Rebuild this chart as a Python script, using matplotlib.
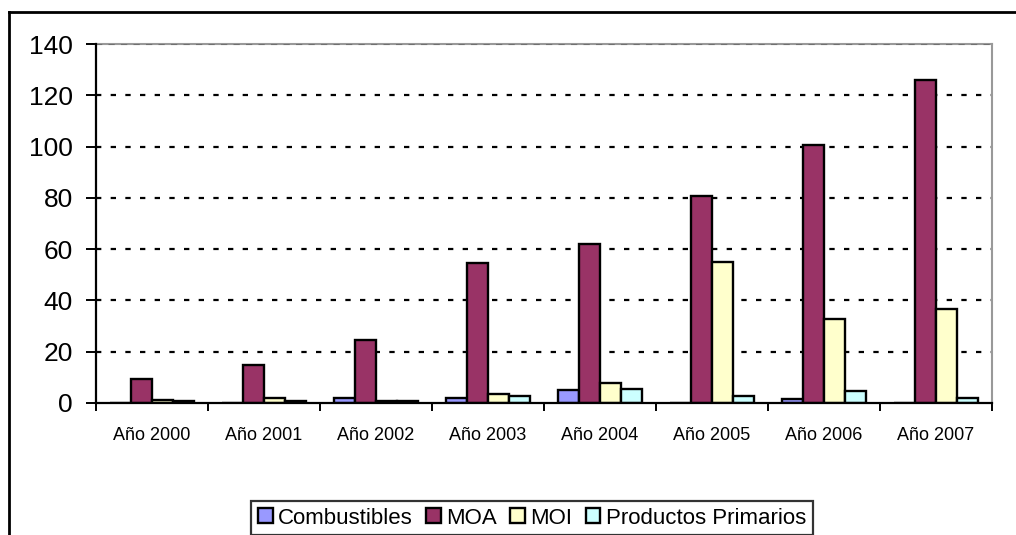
import numpy as np
import matplotlib.pyplot as plt
from matplotlib.lines import Line2D

plt.rcParams['font.family'] = ['Liberation Sans', 'DejaVu Sans']

# Data
years = ['Año 2000', 'Año 2001', 'Año 2002', 'Año 2003',
         'Año 2004', 'Año 2005', 'Año 2006', 'Año 2007']
combustibles = [0, 0, 2, 2, 5.2, 0, 1.6, 0]
moa = [9.2, 14.7, 24.4, 54.5, 62, 80.8, 100.5, 126]
moi = [1.2, 2, 0.6, 3.6, 7.7, 54.9, 32.8, 36.5]
primarios = [0.7, 0.8, 0.8, 2.9, 5.4, 2.8, 4.7, 2.1]

series = [('Combustibles', combustibles, '#9999FF'),
          ('MOA', moa, '#993366'),
          ('MOI', moi, '#FFFFCC'),
          ('Productos Primarios', primarios, '#CCFFFF')]

fig = plt.figure(figsize=(10.16, 5.35), dpi=100)
ax = fig.add_axes([96/1016, 1 - 403/535, 896/1016, 359/535])

x = np.arange(len(years))
w = 0.1875
for i, (name, vals, col) in enumerate(series):
    ax.bar(x + (i - 1.5) * w, vals, w, color=col, edgecolor='black',
           linewidth=1.7, label=name, zorder=3)

ax.set_xlim(-0.5, len(years) - 0.5)
ax.set_ylim(0, 140)
ax.set_yticks(range(0, 141, 20))
ax.tick_params(axis='y', labelsize=19, direction='out', length=7.5, width=1.4, pad=9)

# category ticks at boundaries, labels at centres
ax.set_xticks(np.arange(-0.5, len(years)), minor=False)
ax.set_xticklabels([])
ax.set_xticks(x, minor=True)
ax.set_xticklabels(years, minor=True, fontsize=13)
ax.tick_params(axis='x', which='major', direction='out', length=6, width=1.4)
ax.tick_params(axis='x', which='minor', length=0, pad=17)

for v in range(20, 140, 20):
    ax.axhline(v, color='black', linewidth=1.6, dashes=(2.4, 4.2), zorder=1)
ax.axhline(140, color='#707070', linewidth=1.5, dashes=(3, 3), zorder=4)

for s in ['left', 'bottom']:
    ax.spines[s].set_linewidth(1.6)
    ax.spines[s].set_zorder(5)
for s in ['top', 'right']:
    ax.spines[s].set_color('#999999')
    ax.spines[s].set_linewidth(1.5)

leg = fig.legend(*ax.get_legend_handles_labels(), loc='upper center',
                 bbox_to_anchor=(532/1016, 1 - 501/535), ncol=4,
                 fontsize=16, frameon=True, fancybox=False, borderpad=0.3,
                 handlelength=0.65, handleheight=0.65, handletextpad=0.25,
                 columnspacing=0.6, borderaxespad=0)
leg.get_frame().set_edgecolor('black')
leg.get_frame().set_linewidth(1.6)

# outer chart border (top and left visible)
fig.add_artist(Line2D([9/1016, 1], [1 - 12/535] * 2, color='black', linewidth=2))
fig.add_artist(Line2D([9/1016] * 2, [0, 1 - 12/535], color='black', linewidth=2))

fig.savefig('out.png', dpi=100)
